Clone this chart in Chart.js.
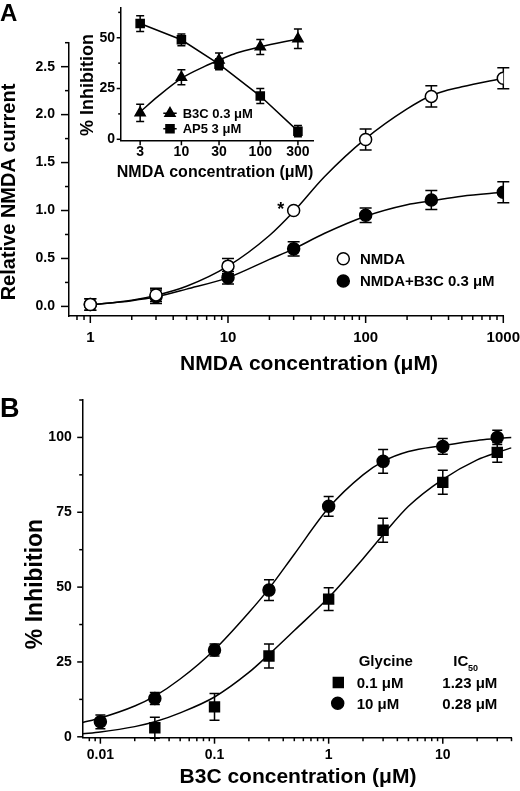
<!DOCTYPE html>
<html>
<head>
<meta charset="utf-8">
<script src="https://cdn.jsdelivr.net/npm/chart.js@4.4.1/dist/chart.umd.min.js"></script>
<style>
  body { margin: 0; background: #fff; }
  #wrap { position: relative; width: 520px; height: 791px; overflow: hidden; }
  #wrap canvas { position: absolute; }
</style>
</head>
<body>
<div id="wrap">
  <canvas id="chartA" width="520" height="385" style="left:0;top:0"></canvas>
  <canvas id="inset" width="270" height="190" style="left:60px;top:0"></canvas>
  <canvas id="chartB" width="520" height="406" style="left:0;top:385px"></canvas>
</div>
<script>
// ---- panel A: relative NMDA current ----
const nmdaConc = [1, 3, 10, 30, 100, 300, 1000];
const nmdaAlone = [0.02, 0.12, 0.42, 1.0, 1.74, 2.19, 2.38];
const nmdaAloneSem = [0.06, 0.07, 0.08, 0, 0.11, 0.11, 0.11];
const nmdaWithB3C = [0.02, 0.1, 0.3, 0.6, 0.95, 1.11, 1.19];
const nmdaWithB3CSem = [0.06, 0.07, 0.065, 0.075, 0.075, 0.1, 0.11];
// fitted curves
const fitConcA = [1, 2, 3, 5, 10, 20, 30, 50, 100, 200, 300, 500, 1000];
const fitNmdaAlone = [0.015, 0.065, 0.115, 0.21, 0.42, 0.74, 0.99, 1.35, 1.75, 2.06, 2.2, 2.29, 2.38];
const fitNmdaWithB3C = [0.015, 0.06, 0.1, 0.18, 0.3, 0.49, 0.6, 0.76, 0.94, 1.06, 1.1, 1.15, 1.19];
const xTicksA = [1, 10, 100, 1000];
const yTicksA = [0, 0.5, 1, 1.5, 2, 2.5];

// ---- inset: % inhibition ----
const insetConc = [3, 10, 30, 100, 300];
const inhibB3C = [13, 30.5, 39, 45.5, 49.5];
const inhibB3CSem = [4.2, 3.7, 3.5, 3.7, 4.8];
const inhibAP5 = [57, 49, 37, 21.3, 4];
const inhibAP5Sem = [3.9, 2.9, 2.7, 3.7, 2.8];
const fitConcInset = [3, 5, 10, 20, 30, 50, 100, 200, 300];
const fitInhibB3C = [13.5, 21, 30, 36, 39, 42.5, 45.5, 48, 49.3];
const xTicksInset = [3, 10, 30, 100, 300];
const yTicksInset = [0, 25, 50];

// ---- panel B: B3C inhibition at two glycine levels ----
const b3cConc = [0.01, 0.03, 0.1, 0.3, 1, 3, 10, 30];
const inhibGly10 = [5, 12.8, 29, 49, 77, 92, 97, 100];
const inhibGly10Sem = [2.3, 2, 2, 3.5, 3.3, 4, 2.6, 2.4];
const b3cConcGly01 = [0.03, 0.1, 0.3, 1, 3, 10, 30];
const inhibGly01 = [3, 10, 27, 46, 69, 85, 95];
const inhibGly01Sem = [3.5, 4.5, 4, 3.8, 4, 4, 3.3];
const fitConcB = [0.007, 0.01, 0.02, 0.03, 0.05, 0.1, 0.2, 0.3, 0.5, 1, 2, 3, 5, 10, 20, 30, 40];
const fitGly10 = [4.8, 6.3, 10.3, 13.6, 19.3, 29.1, 41.5, 49.5, 61, 76.5, 87.5, 92, 95.3, 97.3, 99, 99.6, 100];
const fitGly01 = [1, 1.6, 3.4, 5, 8, 13.3, 21.5, 27.5, 35.5, 46.5, 59.5, 67.5, 77, 86, 92.5, 95, 96.5];
const xTicksB = [0.01, 0.1, 1, 10];
const yTicksB = [0, 25, 50, 75, 100];

const FONT = '"Liberation Sans", Arial, Helvetica, sans-serif';
Chart.defaults.font.family = FONT;
Chart.defaults.color = "#000";
Chart.defaults.animation = false;
Chart.defaults.plugins.legend.display = false;
Chart.defaults.plugins.tooltip.enabled = false;

const pts = (xs, ys) => xs.map((x, i) => ({ x: x, y: ys[i] }));

function markers(xs, ys, sem, style, r, fill) {
  return {
    data: pts(xs, ys),
    errors: sem,
    pointStyle: style,
    pointRadius: r,
    pointHoverRadius: r,
    pointBackgroundColor: fill,
    pointBorderColor: "#000",
    pointBorderWidth: 1.5,
  };
}

function curve(xs, ys) {
  return {
    data: pts(xs, ys),
    showLine: true,
    pointRadius: 0,
    borderColor: "#000",
    borderWidth: 1.5,
    cubicInterpolationMode: "monotone",
  };
}

function axis(type, min, max, labels, fmt, boxSize, pad, size) {
  return {
    type: type,
    min: min,
    max: max,
    grid: { display: false, drawTicks: false },
    border: { display: true, color: "#000", width: 1.5 },
    ticks: {
      padding: pad,
      autoSkip: false,
      maxRotation: 0,
      color: "#000",
      font: { size: size, weight: "bold" },
      callback: fmt,
    },
    afterBuildTicks: (s) => {
      s.ticks = labels.map((v) => ({ value: v }));
    },
    afterFit: (s) => {
      if (s.isHorizontal()) s.height = boxSize;
      else s.width = boxSize;
      s.paddingLeft = s.paddingRight = s.paddingTop = s.paddingBottom = 0;
    },
  };
}

function logMinors(min, max) {
  const out = [];
  for (let d = 1e-4; d <= max; d *= 10) {
    for (let k = 2; k <= 9; k++) {
      const v = +(k * d).toPrecision(3);
      if (v > min && v <= max) out.push(v);
    }
  }
  return out;
}

function errorBars(capHalf) {
  return {
    id: "errorBars",
    beforeDatasetsDraw(chart) {
      const ctx = chart.ctx;
      const xs = chart.scales.x;
      const ys = chart.scales.y;
      ctx.save();
      ctx.strokeStyle = "#000";
      ctx.lineWidth = 1.5;
      chart.data.datasets.forEach((ds) => {
        if (!ds.errors) return;
        ds.data.forEach((p, i) => {
          const e = ds.errors[i];
          if (!e) return;
          const px = xs.getPixelForValue(p.x);
          const top = ys.getPixelForValue(p.y + e);
          const bot = ys.getPixelForValue(p.y - e);
          ctx.beginPath();
          ctx.moveTo(px, top);
          ctx.lineTo(px, bot);
          ctx.moveTo(px - capHalf, top);
          ctx.lineTo(px + capHalf, top);
          ctx.moveTo(px - capHalf, bot);
          ctx.lineTo(px + capHalf, bot);
          ctx.stroke();
        });
      });
      ctx.restore();
    },
  };
}

// text placed by the middle of its capitals
function text(ctx, str, x, y, size, align, rotate) {
  ctx.save();
  ctx.font = "bold " + size + "px " + FONT;
  ctx.fillStyle = "#000";
  ctx.textAlign = align || "center";
  ctx.textBaseline = "alphabetic";
  ctx.translate(x, y);
  if (rotate) ctx.rotate(rotate);
  ctx.fillText(str, 0, size * 0.358);
  ctx.restore();
}

function symbol(ctx, style, x, y, r, fill) {
  ctx.save();
  ctx.fillStyle = fill;
  ctx.strokeStyle = "#000";
  ctx.lineWidth = 1.5;
  Chart.helpers.drawPoint(ctx, { pointStyle: style, radius: r, rotation: 0, borderWidth: 1.5 }, x, y);
  ctx.restore();
}

function decor(spec) {
  return {
    id: "decor",
    afterDraw(chart) {
      const ctx = chart.ctx;
      const area = chart.chartArea;
      ctx.save();
      ctx.strokeStyle = "#000";
      ctx.lineWidth = 1.5;
      Object.keys(spec.axes).forEach((id) => {
        const a = spec.axes[id];
        const scale = chart.scales[id];
        const mark = (v, len) => {
          const p = scale.getPixelForValue(v);
          ctx.beginPath();
          if (scale.isHorizontal()) {
            ctx.moveTo(p, area.bottom);
            ctx.lineTo(p, area.bottom + len);
          } else {
            ctx.moveTo(area.left, p);
            ctx.lineTo(area.left - len, p);
          }
          ctx.stroke();
        };
        a.major.forEach((v) => mark(v, a.majorLen));
        a.minor.forEach((v) => mark(v, a.minorLen));
      });
      ctx.translate(-spec.left, -spec.top);
      spec.draw(ctx, chart);
      ctx.restore();
    },
  };
}

// ---------- panel A ----------
new Chart(document.getElementById("chartA"), {
  type: "scatter",
  data: {
    datasets: [
      markers(nmdaConc, nmdaAlone, nmdaAloneSem, "circle", 6, "#fff"),
      markers(nmdaConc, nmdaWithB3C, nmdaWithB3CSem, "circle", 6, "#000"),
      curve(fitConcA, fitNmdaAlone),
      curve(fitConcA, fitNmdaWithB3C),
    ],
  },
  options: {
    responsive: false,
    layout: { padding: { top: 42.7, right: 16.7, left: 0, bottom: 0 } },
    scales: {
      x: axis("logarithmic", 0.7, 1000, xTicksA, (v) => String(v), 69, 12.5, 15),
      y: axis("linear", -0.1, 2.75, yTicksA, (v) => v.toFixed(1), 69, 14, 14),
    },
  },
  plugins: [
    errorBars(6),
    decor({
      left: 0,
      top: 0,
      axes: {
        x: { major: xTicksA, minor: logMinors(0.7, 1000), majorLen: 7, minorLen: 4 },
        y: { major: yTicksA, minor: [0.25, 0.75, 1.25, 1.75, 2.25, 2.75], majorLen: 8, minorLen: 4 },
      },
      draw(ctx, chart) {
        text(ctx, "A", 0, 12.4, 24, "left");
        text(ctx, "Relative NMDA current", 7.8, 192, 20, "center", -Math.PI / 2);
        text(ctx, "NMDA concentration (\u03bcM)", 309, 362.5, 21);
        const px = chart.scales.x.getPixelForValue(30);
        const py = chart.scales.y.getPixelForValue(1.0);
        text(ctx, "*", px - 13, py - 1.5, 18);
        symbol(ctx, "circle", 343.3, 258.7, 6, "#fff");
        text(ctx, "NMDA", 360, 258.7, 15, "left");
        symbol(ctx, "circle", 343.3, 281, 6, "#000");
        text(ctx, "NMDA+B3C 0.3 \u03bcM", 360, 281, 15, "left");
      },
    }),
  ],
});

// ---------- inset ----------
const ap5Set = markers(insetConc, inhibAP5, inhibAP5Sem, "rect", 5.7, "#000");
ap5Set.showLine = true;
ap5Set.borderColor = "#000";
ap5Set.borderWidth = 1.5;

new Chart(document.getElementById("inset"), {
  type: "scatter",
  data: {
    datasets: [
      markers(insetConc, inhibB3C, inhibB3CSem, "triangle", 5.8, "#000"),
      ap5Set,
      curve(fitConcInset, fitInhibB3C),
    ],
  },
  options: {
    responsive: false,
    layout: { padding: { top: 1.7, right: 16.7, left: 0, bottom: 0 } },
    scales: {
      x: axis("logarithmic", 1.7, 470, xTicksInset, (v) => String(v), 49.7, 3.7, 14),
      y: axis("linear", -0.5, 65, yTicksInset, (v) => String(v), 60.7, 5.7, 14),
    },
  },
  plugins: [
    errorBars(4),
    decor({
      left: 60,
      top: 0,
      axes: {
        x: { major: xTicksInset, minor: [], majorLen: 5, minorLen: 0 },
        y: { major: yTicksInset, minor: [12.5, 37.5, 62.5], majorLen: 4, minorLen: 2.5 },
      },
      draw(ctx) {
        text(ctx, "% Inhibition", 86.3, 85, 18, "center", -Math.PI / 2);
        text(ctx, "NMDA concentration (\u03bcM)", 215, 170.8, 16);
        ctx.beginPath();
        ctx.moveTo(163.3, 113.3);
        ctx.lineTo(176.7, 113.3);
        ctx.moveTo(163.3, 128.7);
        ctx.lineTo(176.7, 128.7);
        ctx.stroke();
        symbol(ctx, "triangle", 170, 113.3, 5.8, "#000");
        text(ctx, "B3C 0.3 \u03bcM", 182.7, 113.3, 13, "left");
        symbol(ctx, "rect", 170, 128.7, 5.7, "#000");
        text(ctx, "AP5 3 \u03bcM", 182.7, 128.7, 13, "left");
      },
    }),
  ],
});

// ---------- panel B ----------
new Chart(document.getElementById("chartB"), {
  type: "scatter",
  data: {
    datasets: [
      markers(b3cConc, inhibGly10, inhibGly10Sem, "circle", 6, "#000"),
      markers(b3cConcGly01, inhibGly01, inhibGly01Sem, "rect", 7, "#000"),
      curve(fitConcB, fitGly10),
      curve(fitConcB, fitGly01),
    ],
  },
  options: {
    responsive: false,
    layout: { padding: { top: 15, right: 2, left: 0, bottom: 0 } },
    scales: {
      x: axis("logarithmic", 0.007, 40, xTicksB, (v) => String(v), 53.3, 8.6, 14),
      y: axis("linear", -0.3, 112.5, yTicksB, (v) => String(v), 82.7, 11, 14),
    },
  },
  plugins: [
    errorBars(5),
    decor({
      left: 0,
      top: 385,
      axes: {
        x: { major: xTicksB, minor: logMinors(0.007, 40), majorLen: 6, minorLen: 3.5 },
        y: { major: yTicksB, minor: [12.5, 37.5, 62.5, 87.5, 112.5], majorLen: 5.5, minorLen: 3.5 },
      },
      draw(ctx) {
        text(ctx, "B", 0, 407, 27, "left");
        text(ctx, "% Inhibition", 34.2, 584, 23, "center", -Math.PI / 2);
        text(ctx, "B3C concentration (\u03bcM)", 298, 775, 21);
        text(ctx, "Glycine", 385.8, 661, 15);
        text(ctx, "IC", 453.3, 661, 15, "left");
        text(ctx, "50", 468, 667.5, 9, "left");
        symbol(ctx, "rect", 338.3, 682.5, 7, "#000");
        text(ctx, "0.1 \u03bcM", 356.7, 683, 15, "left");
        text(ctx, "1.23 \u03bcM", 442.3, 683, 15, "left");
        symbol(ctx, "circle", 337.7, 703.3, 6, "#000");
        text(ctx, "10 \u03bcM", 356.7, 703.3, 15, "left");
        text(ctx, "0.28 \u03bcM", 442.3, 703.3, 15, "left");
      },
    }),
  ],
});
</script>
</body>
</html>
